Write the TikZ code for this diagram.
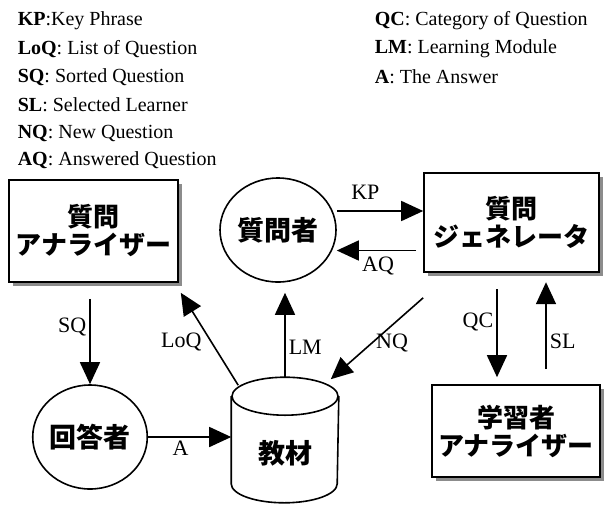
\documentclass[tikz,border=0pt]{standalone}
\usepackage{fontspec}
\setmainfont{Liberation Serif}
\newfontfamily\jpfont{Noto Sans CJK JP}
\usetikzlibrary{arrows.meta, shapes.geometric, shadows}

\tikzset{
   box/.style={draw, rectangle, fill=white, inner sep=0pt, align=center,
      font=\jpfont\bfseries\fontsize{26}{28}\selectfont,
      drop shadow={shadow xshift=4pt, shadow yshift=-4pt, fill=black!45, opacity=1}},
   actor/.style={draw, ellipse, inner sep=0pt,
      font=\jpfont\bfseries\fontsize{27}{29}\selectfont},
   store/.style={inner sep=0pt, minimum width=106pt, minimum height=124pt},
   storetext/.style={inner sep=0pt, font=\jpfont\bfseries\fontsize{27}{29}\selectfont},
   legend/.style={anchor=west, inner sep=0pt, font=\fontsize{20}{22}\selectfont},
   lbl/.style={font=\fontsize{22}{24}\selectfont, inner sep=3pt}
}

\begin{document}
\begin{tikzpicture}[->,>={Triangle[length=22pt,width=20pt]}, x=1pt, y=-1pt, line width=1.6pt]
   \useasboundingbox (0,0) rectangle (604,504);

   % Legend
      \node[legend] (keyKP)  at (17,21)   {\textbf{KP}:Key Phrase};
      \node[legend] (keyLoQ) at (17,49)   {\textbf{LoQ}: List of Question};
      \node[legend] (keySQ)  at (17,77)   {\textbf{SQ}: Sorted Question};
      \node[legend] (keySL)  at (17,105)  {\textbf{SL}: Selected Learner};
      \node[legend] (keyNQ)  at (17,133)  {\textbf{NQ}: New Question};
      \node[legend] (keyAQ)  at (17,160)  {\textbf{AQ}: Answered Question};
      \node[legend] (keyQC)  at (374,21)  {\textbf{QC}: Category of Question};
      \node[legend] (keyLM)  at (374,49)  {\textbf{LM}: Learning Module};
      \node[legend] (keyA)   at (374,77)  {\textbf{A}: The Answer};

   % Nodes
      \node[box, minimum width=169pt, minimum height=102pt] (qa) at (93.5,231)    {質問\\アナライザー};
      \node[actor, minimum width=116pt, minimum height=104pt] (qs) at (278,230)   {質問者};
      \node[box, minimum width=175pt, minimum height=99pt]  (qg) at (511.5,222.5) {質問\\ジェネレータ};
      \node[actor, minimum width=114pt, minimum height=104pt] (rs) at (90,437)    {回答者};
      \node[store] (tm) at (285,440) {};
      \node[storetext] (tmtext) at (285,453) {教材};
      \node[box, minimum width=168pt, minimum height=92pt]  (la) at (516,431)     {学習者\\アナライザー};

   % Cylinder
      \draw[-] (tm.north) ++(0,-19pt) ellipse [x radius=53pt, y radius=19pt];
      \draw[-] ([yshift=-19pt]tm.north west) -- ([yshift=19pt]tm.south west)
               arc [start angle=180, end angle=360, x radius=53pt, y radius=19pt]
               -- ([yshift=-19pt]tm.north east);

   % Paths
      \path ([yshift=19pt]qs.east) edge node[lbl, above=8pt, pos=0.33] {KP} ([yshift=19pt]qs.east -| qg.west);
      \path ([xshift=-7pt,yshift=-28pt]qg.west) edge node[lbl, below=3pt, pos=0.48] {AQ} ([yshift=-28pt]qg.west -| qs.east);
      \path ([yshift=-16pt]qa.south -| rs.north) edge node[lbl, left, pos=0.33] {SQ} (rs.north);
      \path (rs.east) edge node[lbl, below, pos=0.39] {A} (rs.east -| tm.west);
      \path ([xshift=7pt,yshift=-8pt]tm.north west) edge node[lbl, left=6pt, pos=0.47] {LoQ} ([xshift=2pt,yshift=-10pt]qa.south east);
      \path (tm.north) edge node[lbl, right, pos=0.35] {LM} ([yshift=-10pt]qs.south -| tm.north);
      \path ([yshift=-25pt]qg.south west) edge node[lbl, right, pos=0.55] {NQ} ([xshift=-8pt,yshift=-2pt]tm.north east);
      \path ([xshift=-19pt,yshift=95pt]la.north) edge node[lbl, left, pos=0.37] {QC} ([xshift=-19pt,yshift=7pt]la.north);
      \path ([xshift=30pt,yshift=15pt]la.north) edge node[lbl, right, pos=0.32] {SL} ([xshift=30pt,yshift=102pt]la.north);
\end{tikzpicture}
\end{document}
